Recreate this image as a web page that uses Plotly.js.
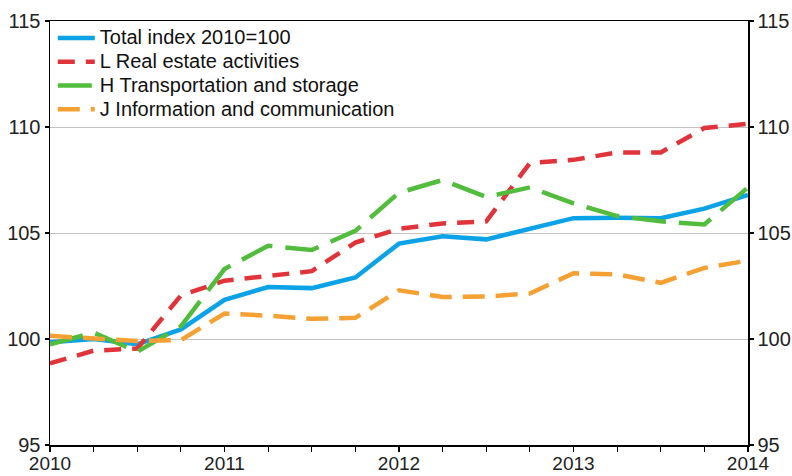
<!DOCTYPE html>
<html>
<head>
<meta charset="utf-8">
<script src="https://cdn.plot.ly/plotly-3.0.1.min.js"></script>
<style>html,body{margin:0;padding:0;background:#fff;}#chart{width:792px;height:476px;}</style>
</head>
<body>
<div id="chart"></div>
<script>
// Quarterly observations, 2010 Q1 .. 2014 Q1 (as decimal years)
const quarters = [2010, 2010.25, 2010.5, 2010.75, 2011, 2011.25, 2011.5, 2011.75,
                  2012, 2012.25, 2012.5, 2012.75, 2013, 2013.25, 2013.5, 2013.75, 2014];

const seriesNames = [
  "Total index 2010=100",
  "L Real estate activities",
  "H Transportation and storage",
  "J Information and communication"
];

const totalIndex = [99.85, 100.0, 99.75, 100.45, 101.85, 102.45, 102.4, 102.9,
                    104.5, 104.85, 104.7, 105.2, 105.7, 105.72, 105.7, 106.15, 106.8];
const realEstate = [98.85, 99.45, 99.55, 102.05, 102.75, 103.0, 103.2, 104.55,
                    105.2, 105.45, 105.55, 108.3, 108.45, 108.8, 108.8, 109.95, 110.15];
const transport  = [99.75, 100.3, 99.4, 100.6, 103.3, 104.4, 104.2, 105.1,
                    106.9, 107.5, 106.7, 107.15, 106.4, 105.8, 105.55, 105.4, 107.15];
const infoComm   = [100.15, 100.05, 99.9, 99.95, 101.2, 101.1, 100.95, 101.0,
                    102.3, 101.98, 102.0, 102.15, 103.1, 103.05, 102.65, 103.35, 103.7];

const yearTicks = [2010, 2011, 2012, 2013, 2014];
const yTicks = [95, 100, 105, 110, 115];

const colors = ["#0ca2e8", "#e0343a", "#52bd3c", "#f5a033"];
const dashes = ["solid", "17px,11px", "34px,13px", "22px,11px"];
const values = [totalIndex, realEstate, transport, infoComm];
const yAxes = ["y", "y", "y", "y2"];

const traces = values.map((v, i) => ({
  x: quarters,
  y: v,
  yaxis: yAxes[i],
  name: '<span style="font-size:20px">' + seriesNames[i] + '</span>',
  type: "scatter",
  mode: "lines",
  line: {color: colors[i], width: 4.5, dash: dashes[i]},
  hoverinfo: "skip"
}));

const fontFam = "Liberation Sans, Arial, sans-serif";
const tickFont = {family: fontFam, size: 20, color: "#222"};
const layout = {
  width: 792, height: 476,
  margin: {l: 50, r: 44, t: 21, b: 31, pad: 0},
  paper_bgcolor: "#ffffff",
  plot_bgcolor: "#ffffff",
  font: {family: fontFam, size: 18, color: "#222"},
  showlegend: true,
  legend: {
    x: 0.004, y: 1.0, xanchor: "left", yanchor: "top",
    bgcolor: "rgba(0,0,0,0)", borderwidth: 0,
    font: {family: fontFam, size: 16, color: "#111"},
    tracegroupgap: 0, itemwidth: 37
  },
  xaxis: {
    range: [2010, 2014],
    tickvals: yearTicks, ticktext: yearTicks.map(String),
    ticks: "outside", ticklen: 5, tickcolor: "#000", tickwidth: 1.2,
    ticklabelstandoff: -4,
    minor: {dtick: 0.25, tick0: 2010, ticks: "outside", ticklen: 5, tickcolor: "#000", tickwidth: 1.2, showgrid: false},
    showline: true, linecolor: "#000", linewidth: 1.5, mirror: true,
    showgrid: false, zeroline: false,
    tickfont: {family: fontFam, size: 19, color: "#222"}
  },
  yaxis: {
    range: [95, 115], tickvals: yTicks,
    ticks: "outside", ticklen: 4, tickcolor: "#000", tickwidth: 1.2,
    showline: true, linecolor: "#000", linewidth: 1.5,
    showgrid: true, gridcolor: "#c4c4c4", gridwidth: 1, zeroline: false,
    tickfont: tickFont
  },
  yaxis2: {
    range: [95, 115], tickvals: yTicks, overlaying: "y", side: "right",
    ticks: "outside", ticklen: 4, tickcolor: "#000", tickwidth: 1.2,
    showline: true, linecolor: "#000", linewidth: 1.5,
    showgrid: false, zeroline: false,
    tickfont: tickFont
  }
};

Plotly.newPlot("chart", traces, layout, {staticPlot: true, displayModeBar: false});
</script>
</body>
</html>
